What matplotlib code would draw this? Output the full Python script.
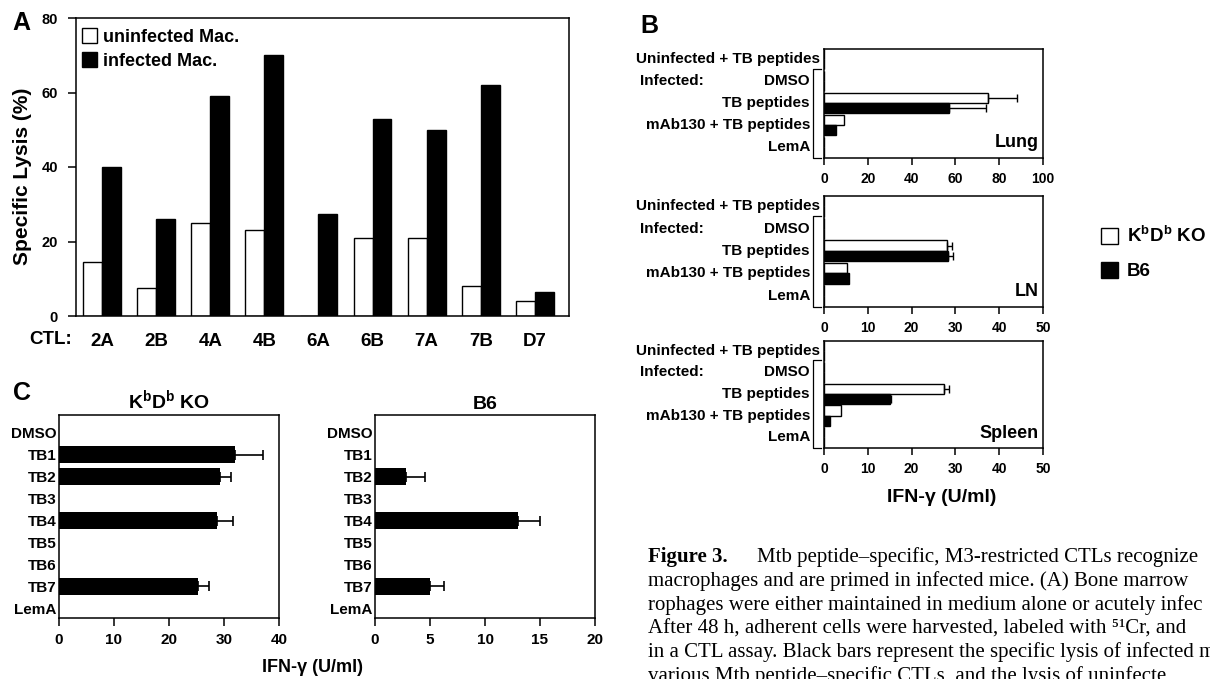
import matplotlib
matplotlib.use('Agg')
import matplotlib.pyplot as plt
import numpy as np
from matplotlib.patches import Patch
from matplotlib.transforms import blended_transform_factory

# ---- data ----
ctl_labels = ['2A', '2B', '4A', '4B', '6A', '6B', '7A', '7B', 'D7']
uninfected_lysis = [14.5, 7.5, 25, 23, 0, 21, 21, 8, 4]
infected_lysis = [40, 26, 59, 70, 27.5, 53, 50, 62, 6.5]

b_rows = ['Uninfected + TB peptides', 'DMSO', 'TB peptides', 'mAb130 + TB peptides', 'LemA']
lung_ko = [0, 0, 75, 9, 0]
lung_ko_err = [0, 0, 13, 0, 0]
lung_b6 = [0, 0, 57, 5.5, 0]
lung_b6_err = [0, 0, 17, 0, 0]
ln_ko = [0, 0, 28, 5.3, 0]
ln_ko_err = [0, 0, 1.3, 0, 0]
ln_b6 = [0, 0, 28.3, 5.7, 0]
ln_b6_err = [0, 0, 1.1, 0, 0]
spleen_ko = [0, 0, 27.5, 3.9, 0]
spleen_ko_err = [0, 0, 1.0, 0, 0]
spleen_b6 = [0, 0, 15, 1.4, 0]
spleen_b6_err = [0, 0, 0.3, 0, 0]

c_peptides = ['DMSO', 'TB1', 'TB2', 'TB3', 'TB4', 'TB5', 'TB6', 'TB7', 'LemA']
kbdb_ifn = [0, 32, 29.3, 0, 28.8, 0, 0, 25.2, 0]
kbdb_err = [0, 5, 2, 0, 2.8, 0, 0, 2, 0]
b6_ifn = [0, 0, 2.8, 0, 13, 0, 0, 5, 0]
b6_err = [0, 0, 1.7, 0, 2, 0, 0, 1.3, 0]

caption = [
    'macrophages and are primed in infected mice. (A) Bone marrow',
    'rophages were either maintained in medium alone or acutely infec',
    'After 48 h, adherent cells were harvested, labeled with \u2075\u00b9Cr, and',
    'in a CTL assay. Black bars represent the specific lysis of infected m',
    'various Mtb peptide\u2013specific CTLs, and the lysis of uninfecte',
]

plt.rcParams['font.family'] = ['Liberation Sans', 'DejaVu Sans']
plt.rcParams['font.weight'] = 'bold'
plt.rcParams['axes.linewidth'] = 1.1
plt.rcParams['mathtext.fontset'] = 'custom'
plt.rcParams['mathtext.rm'] = 'Liberation Sans'
plt.rcParams['mathtext.bf'] = 'Liberation Sans:bold'

W, H = 1210, 679
fig = plt.figure(figsize=(12.1, 6.79), dpi=100)
kbdb = r'K$^{\mathbf{b}}$D$^{\mathbf{b}}$ KO'


def axes_px(l, t, r, b):
    return fig.add_axes([l / W, 1 - b / H, (r - l) / W, (b - t) / H])


def text_px(x, y, s, **kw):
    return fig.text(x / W, 1 - y / H, s, **kw)


# ---- panel A ----
ax = axes_px(76, 18, 569, 316)
x = np.arange(len(ctl_labels))
ax.bar(x - 0.175, uninfected_lysis, width=0.35, color='white', edgecolor='black', linewidth=1,
       label='uninfected Mac.')
ax.bar(x + 0.175, infected_lysis, width=0.35, color='black', edgecolor='black', linewidth=1,
       label='infected Mac.')
ax.set_xlim(-0.48, 8.63)
ax.set_ylim(0, 80)
ax.set_yticks([0, 20, 40, 60, 80])
ax.tick_params(axis='y', length=6, width=1.1, pad=7, labelsize=10.5)
ax.set_xticks(x, ctl_labels)
ax.tick_params(axis='x', length=0, pad=12, labelsize=13.5)
ax.legend(loc='upper left', bbox_to_anchor=(0.012, 0.965), frameon=False, fontsize=13,
          borderpad=0, borderaxespad=0, handlelength=0.85, handleheight=0.85,
          handletextpad=0.3, labelspacing=0.35)
text_px(23, 176, 'Specific Lysis (%)', rotation=90, ha='center', va='center', fontsize=15)
text_px(51, 340, 'CTL:', ha='center', va='center', fontsize=13.5)
text_px(21, 23, 'A', ha='center', va='center', fontsize=18)


# ---- panel B ----
def panel_b(top, bottom, ko, ko_err, b6, b6_err, xmax, step, name):
    ax = axes_px(824, top, 1043, bottom)
    y = np.arange(len(b_rows))
    ax.barh(y - 0.235, ko, height=0.47, color='white', edgecolor='black', linewidth=1)
    ax.barh(y + 0.235, b6, height=0.47, color='black', edgecolor='black', linewidth=1)
    for i in range(len(b_rows)):
        if ko_err[i] > 0:
            ax.errorbar(ko[i], y[i] - 0.235, xerr=[[0], [ko_err[i]]], fmt='none',
                        ecolor='black', elinewidth=1, capsize=3, capthick=1)
        if b6_err[i] > 0:
            ax.errorbar(b6[i], y[i] + 0.235, xerr=[[0], [b6_err[i]]], fmt='none',
                        ecolor='black', elinewidth=1, capsize=3, capthick=1)
    ax.set_xlim(0, xmax)
    ax.set_ylim(4.5, -0.45)
    ax.set_xticks(np.arange(0, xmax + 1, step))
    ax.set_yticks([])
    ax.tick_params(axis='x', length=5, width=1.1, pad=5, labelsize=10)
    tr = blended_transform_factory(ax.transAxes, ax.transData)
    for i, lab in enumerate(b_rows):
        xx = -0.018 if i == 0 else -0.064
        ax.text(xx, y[i], lab, transform=tr, ha='right', va='center', fontsize=11)
    ax.text(-0.84, 1, 'Infected:', transform=tr, ha='left', va='center', fontsize=11)
    ax.plot([-0.014, -0.05, -0.05, -0.014], [0.45, 0.45, 4.5, 4.5], color='black',
            linewidth=0.9, transform=tr, clip_on=False)
    ax.text(0.98, 0.14, name, transform=ax.transAxes, ha='right', va='center', fontsize=13)
    return ax


panel_b(49, 158, lung_ko, lung_ko_err, lung_b6, lung_b6_err, 100, 20, 'Lung')
panel_b(196, 307, ln_ko, ln_ko_err, ln_b6, ln_b6_err, 50, 10, 'LN')
panel_b(341, 448, spleen_ko, spleen_ko_err, spleen_b6, spleen_b6_err, 50, 10, 'Spleen')
text_px(942, 498, 'IFN-\u03b3 (U/ml)', ha='center', va='center', fontsize=14)
text_px(640, 26, 'B', ha='left', va='center', fontsize=18)
fig.legend(handles=[Patch(facecolor='white', edgecolor='black', linewidth=1, label=kbdb),
                    Patch(facecolor='black', edgecolor='black', label='B6')],
           loc='center left', bbox_to_anchor=(1101 / W, 1 - 253 / H), frameon=False,
           fontsize=13.5, borderpad=0, borderaxespad=0, handlelength=0.9, handleheight=0.9,
           handletextpad=0.5, labelspacing=0.85)


# ---- panel C ----
def panel_c(left, right, vals, errs, xmax, step, title):
    ax = axes_px(left, 415, right, 618)
    y = np.arange(len(c_peptides))
    ax.barh(y, vals, height=0.78, color='black')
    for i in range(len(c_peptides)):
        if errs[i] > 0:
            ax.errorbar(vals[i], y[i], xerr=[[0], [errs[i]]], fmt='none', ecolor='black',
                        elinewidth=1.2, capsize=3.6, capthick=1.2)
    ax.set_xlim(0, xmax)
    ax.set_ylim(8.45, -0.82)
    ax.set_yticks(y, c_peptides)
    ax.tick_params(axis='y', length=0, pad=2, labelsize=11)
    ax.set_xticks(np.arange(0, xmax + 1, step))
    ax.tick_params(axis='x', length=6, width=1.1, pad=5, labelsize=11)
    ax.set_title(title, fontsize=14, fontweight='bold', pad=4)
    return ax


panel_c(59, 279, kbdb_ifn, kbdb_err, 40, 10, kbdb)
panel_c(375, 595, b6_ifn, b6_err, 20, 5, 'B6')
text_px(312, 668, 'IFN-\u03b3 (U/ml)', ha='center', va='center', fontsize=13)
text_px(22, 393, 'C', ha='center', va='center', fontsize=18)

# ---- caption (cut at the right and bottom edges, as in the source page) ----
serif = ['Liberation Serif', 'DejaVu Serif']
text_px(648, 557, 'Figure 3.', ha='left', va='center', fontsize=15, family=serif,
        fontweight='bold')
text_px(757, 557, 'Mtb peptide\u2013specific, M3-restricted CTLs recognize', ha='left',
        va='center', fontsize=15, family=serif, fontweight='normal')
for i, line in enumerate(caption):
    text_px(648, 581 + 23.8 * i, line, ha='left', va='center', fontsize=15, family=serif,
            fontweight='normal')

fig.savefig('out.png', dpi=100)
